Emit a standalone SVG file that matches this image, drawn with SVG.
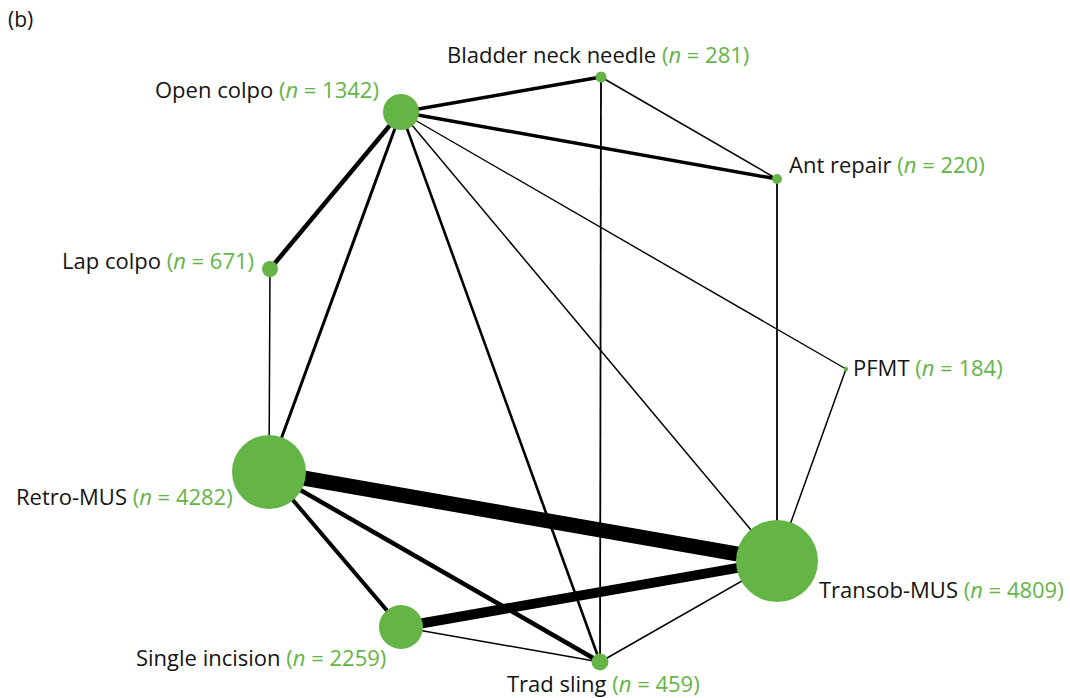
<svg xmlns="http://www.w3.org/2000/svg" width="1070" height="698" viewBox="0 0 1070 698">
<style>
.e{stroke:#000;fill:none;stroke-linecap:butt}
.n{fill:#64b446}
text{font-family:"Open Sans","Noto Sans",sans-serif;font-size:22px;fill:#141414}
.g{fill:#64b446}
.i{font-style:italic}
</style>
<rect width="1070" height="698" fill="#fff"/>
<text x="8" y="27" style="font-size:21px">(b)</text>
<g id="edges">
<line class="e" x1="401" y1="112" x2="601" y2="77" stroke-width="3.5"/>
<line class="e" x1="401" y1="112" x2="777" y2="179" stroke-width="3.5"/>
<line class="e" x1="601" y1="77" x2="777" y2="179" stroke-width="1.5"/>
<line class="e" x1="601" y1="77" x2="600" y2="662" stroke-width="1.8"/>
<line class="e" x1="401" y1="112" x2="270" y2="269" stroke-width="4.5"/>
<line class="e" x1="401" y1="112" x2="269" y2="472" stroke-width="3"/>
<line class="e" x1="401" y1="112" x2="600" y2="662" stroke-width="2.6"/>
<line class="e" x1="401" y1="112" x2="777" y2="561" stroke-width="1.5"/>
<line class="e" x1="401" y1="112" x2="846" y2="369" stroke-width="1.4"/>
<line class="e" x1="777" y1="179" x2="777" y2="561" stroke-width="1.8"/>
<line class="e" x1="846" y1="369" x2="777" y2="561" stroke-width="1.5"/>
<line class="e" x1="270" y1="269" x2="269" y2="472" stroke-width="1.5"/>
<line class="e" x1="269" y1="472" x2="777" y2="561" stroke-width="15"/>
<line class="e" x1="269" y1="472" x2="401" y2="627" stroke-width="4"/>
<line class="e" x1="269" y1="472" x2="600" y2="662" stroke-width="4.5"/>
<line class="e" x1="401" y1="627" x2="777" y2="561" stroke-width="10"/>
<line class="e" x1="401" y1="627" x2="600" y2="662" stroke-width="1.5"/>
<line class="e" x1="600" y1="662" x2="777" y2="561" stroke-width="1.5"/>
</g>
<g id="node-bladder"><circle class="n" cx="601" cy="77" r="5.5"/><text x="447" y="63">Bladder neck needle <tspan class="g">(<tspan class="i">n</tspan> = 281)</tspan></text></g>
<g id="node-opencolpo"><circle class="n" cx="401" cy="112" r="18"/><text x="155" y="98">Open colpo <tspan class="g">(<tspan class="i">n</tspan> = 1342)</tspan></text></g>
<g id="node-antrepair"><circle class="n" cx="777" cy="179" r="5"/><text x="789" y="173">Ant repair <tspan class="g">(<tspan class="i">n</tspan> = 220)</tspan></text></g>
<g id="node-lapcolpo"><circle class="n" cx="270" cy="269" r="8"/><text x="62" y="269">Lap colpo <tspan class="g">(<tspan class="i">n</tspan> = 671)</tspan></text></g>
<g id="node-pfmt"><circle class="n" cx="846" cy="369" r="2.2"/><text x="853" y="376">PFMT <tspan class="g">(<tspan class="i">n</tspan> = 184)</tspan></text></g>
<g id="node-retromus"><circle class="n" cx="269" cy="472" r="37"/><text x="16" y="505">Retro-MUS <tspan class="g">(<tspan class="i">n</tspan> = 4282)</tspan></text></g>
<g id="node-transobmus"><circle class="n" cx="777" cy="561" r="41"/><text x="819" y="598">Transob-MUS <tspan class="g">(<tspan class="i">n</tspan> = 4809)</tspan></text></g>
<g id="node-single"><circle class="n" cx="401" cy="627" r="22"/><text x="136" y="666">Single incision <tspan class="g">(<tspan class="i">n</tspan> = 2259)</tspan></text></g>
<g id="node-tradsling"><circle class="n" cx="600" cy="662" r="8.5"/><text x="507" y="692">Trad sling <tspan class="g">(<tspan class="i">n</tspan> = 459)</tspan></text></g>
</svg>
